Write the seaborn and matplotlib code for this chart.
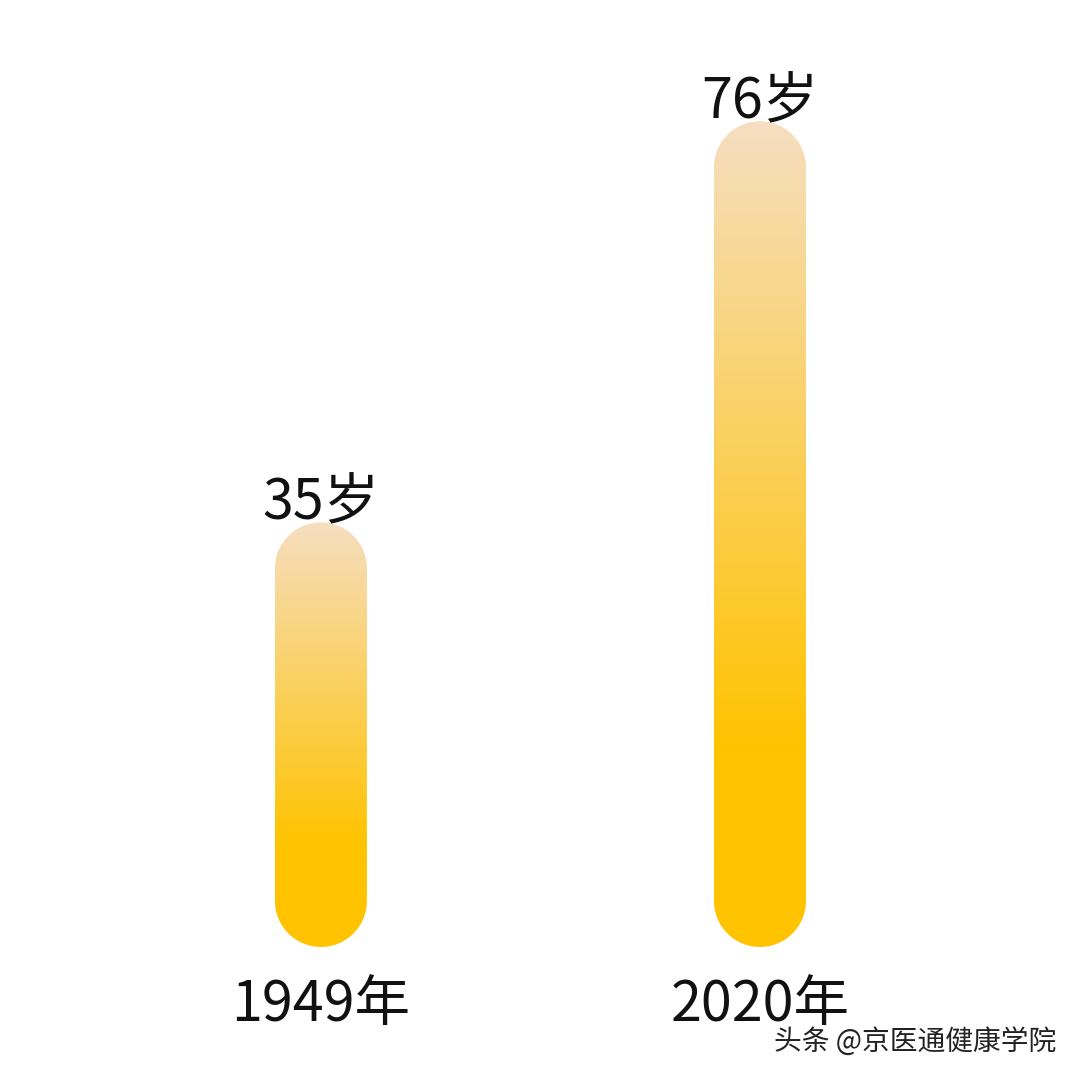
import numpy as np
import pandas as pd
import matplotlib
matplotlib.use("Agg")
import matplotlib.pyplot as plt
import seaborn as sns
from matplotlib.patches import PathPatch
from matplotlib.path import Path
from matplotlib.transforms import IdentityTransform
from matplotlib.colors import to_rgb

# data
years = ["1949年", "2020年"]
life_expectancy = [35, 76]
value_labels = ["35岁", "76岁"]

TOP_COLOR = "#F6DEC0"
BOTTOM_COLOR = "#FFC300"
BASE = -8.4          # bars extend a bit below zero
SOLID_FRAC = 0.24    # lower part of the bar is plain yellow

sns.set_theme(style="white")
plt.rcParams['font.family'] = ['Noto Sans CJK SC', 'DejaVu Sans']

df = pd.DataFrame({"year": years, "age": life_expectancy})

fig = plt.figure(figsize=(10.8, 10.8), dpi=100)
ax = fig.add_axes([0, 0, 1, 1])
sns.barplot(data=df, x="year", y="age", ax=ax, width=0.2096, color=BOTTOM_COLOR)
ax.set_xlim(-0.731, 1.729)
ax.set_ylim(-22.0, 88.4)
ax.axis("off")

# vertical gradient image: peach on top, yellow at the bottom
n = 256
t = np.linspace(0, 1, n)
mix = np.clip(t / (1 - SOLID_FRAC), 0, 1)[:, None]
c0 = np.array(to_rgb(TOP_COLOR))
c1 = np.array(to_rgb(BOTTOM_COLOR))
grad = (c0 * (1 - mix) + c1 * mix)[:, None, :]


def pill_path(px0, py0, px1, py1):
    # rectangle with semicircular ends, in pixels
    r = (px1 - px0) / 2
    cx = px0 + r
    a_top = np.linspace(0, np.pi, 60)
    a_bot = np.linspace(np.pi, 2 * np.pi, 60)
    top = np.column_stack([cx + r * np.cos(a_top), py1 - r + r * np.sin(a_top)])
    bot = np.column_stack([cx + r * np.cos(a_bot), py0 + r + r * np.sin(a_bot)])
    pts = np.vstack([top, bot, top[:1]])
    return Path(pts, closed=True)


for p in ax.patches:
    x0, w, top = p.get_x(), p.get_width(), p.get_height()
    p.set_visible(False)
    (px0, py0), (px1, py1) = ax.transData.transform([(x0, BASE), (x0 + w, top)])
    shape = PathPatch(pill_path(px0, py0, px1, py1), transform=IdentityTransform(),
                      facecolor="none", edgecolor="none")
    fig.add_artist(shape)
    im = ax.imshow(grad, extent=(x0, x0 + w, BASE, top), aspect="auto",
                   origin="upper", zorder=2, interpolation="bilinear")
    im.set_clip_path(shape)

ax.set_xlim(-0.731, 1.729)
ax.set_ylim(-22.0, 88.4)

for i, (v, lab) in enumerate(zip(life_expectancy, value_labels)):
    ax.annotate(lab, (i, v), xytext=(0, -7), textcoords="offset points",
                ha="center", va="bottom", fontsize=40, color="#111111")

for i, yr in enumerate(years):
    ax.text(i, 0.069, yr, transform=ax.get_xaxis_transform(),
            ha="center", va="center", fontsize=40, color="#111111")

fig.text(0.978, 0.035, "头条 @京医通健康学院", ha="right", va="center",
         fontsize=20, color="#222222")

fig.savefig("out.png", dpi=100, facecolor="white")
